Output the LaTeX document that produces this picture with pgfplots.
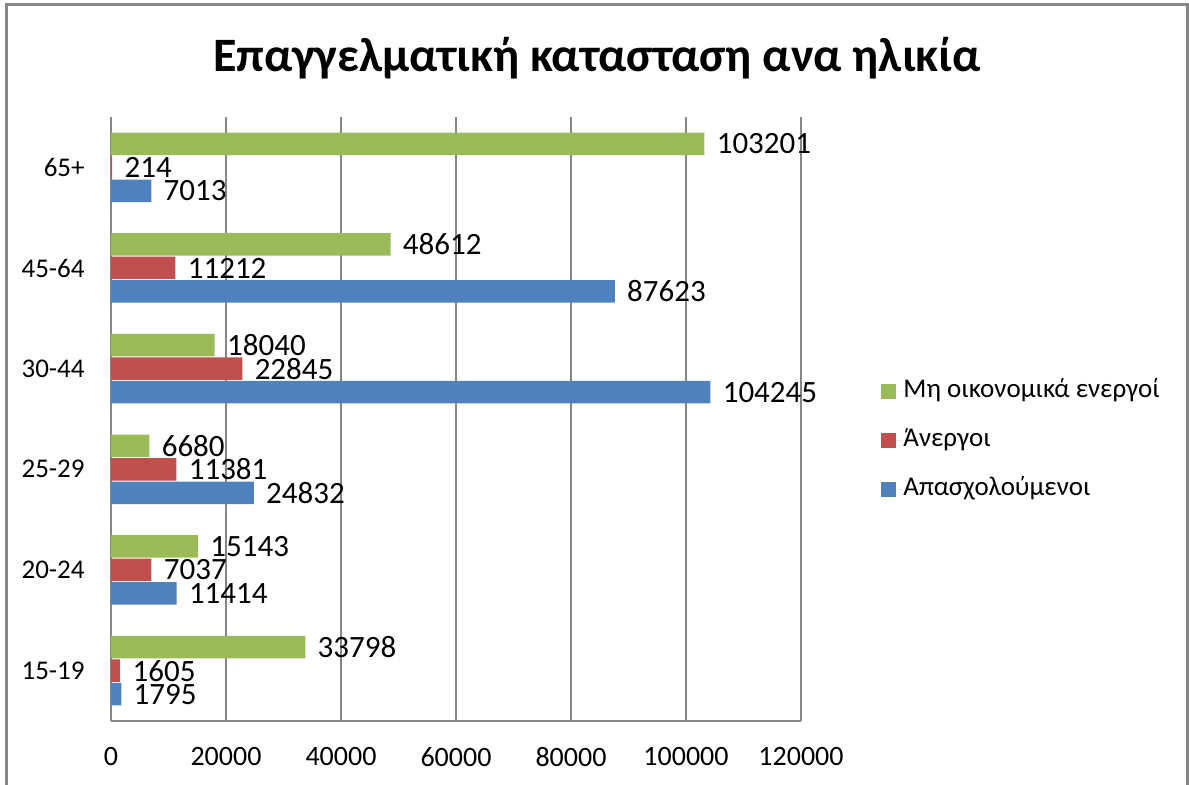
\documentclass[border=0pt]{standalone}
\usepackage{pgfplots}
\pgfplotsset{compat=1.18}
\usepackage{fontspec}
\setmainfont{Carlito}
\definecolor{cblue}{RGB}{79,129,189}
\definecolor{cred}{RGB}{192,80,77}
\definecolor{cgreen}{RGB}{155,187,89}
\definecolor{gridgray}{RGB}{134,134,134}
\begin{document}
\begin{tikzpicture}
\useasboundingbox (0,0) rectangle (594.5pt,392.5pt);
\begin{scope}
\clip (0,0) rectangle (594.5pt,392.5pt);
\draw[gridgray, line width=1.5pt] (3pt,-5pt) rectangle (593.5pt,390pt);
\end{scope}
\node[anchor=base, font=\fontsize{24}{28}\selectfont\bfseries] at (298.5pt,356.5pt) {Επαγγελματική κατασταση ανα ηλικία};
\begin{axis}[
  at={(55.5pt,32pt)}, anchor=south west,
  scale only axis, width=345pt, height=302pt,
  xbar=0.5pt, bar width=11.25pt,
  xmin=0, xmax=120000, ymin=-0.5, ymax=5.5,
  xtick={0,20000,40000,60000,80000,100000,120000},
  xticklabels={0,20000,40000,60000,80000,100000,120000},
  ytick={0,1,2,3,4,5},
  yticklabels={15-19,20-24,25-29,30-44,45-64,65+},
  scaled x ticks=false,
  major tick length=0pt,
  axis x line*=bottom, axis y line*=left,
  axis line style={gridgray, line width=0.75pt, -},
  xmajorgrids, grid style={gridgray, line width=0.6pt},
  tick label style={font=\fontsize{14}{16}\selectfont, black},
  yticklabel style={inner sep=0pt, xshift=-13pt, font=\fontsize{13.5}{16}\selectfont},
  xticklabel style={inner sep=0pt, yshift=-13pt},
  point meta=explicit symbolic,
  nodes near coords={\pgfplotspointmeta},
  every node near coord/.append style={font=\fontsize{15.5}{18}\selectfont, black, anchor=west, inner sep=2pt, xshift=4pt},
  reverse legend,
  legend cell align=left,
  legend style={at={(1.116,0.465)}, anchor=west, draw=none, fill=none, inner sep=0pt,
    font=\fontsize{13.5}{16}\selectfont,
    nodes={inner sep=0pt, text height=9.5pt, text depth=3pt},
    row sep=12pt},
  legend image code/.code={\fill[#1] (0pt,-3.75pt) rectangle (7.5pt,3.75pt); \path (0pt,0pt) -- (11pt,0pt);},
]
\addplot[fill=cblue, draw=none] coordinates {(1795,0) [1795] (11414,1) [11414] (24832,2) [24832] (104245,3) [104245] (87623,4) [87623] (7013,5) [7013]};
\addplot[fill=cred, draw=none] coordinates {(1605,0) [1605] (7037,1) [7037] (11381,2) [11381] (22845,3) [22845] (11212,4) [11212] (214,5) [214]};
\addplot[fill=cgreen, draw=none] coordinates {(33798,0) [33798] (15143,1) [15143] (6680,2) [6680] (18040,3) [18040] (48612,4) [48612] (103201,5) [103201]};
\legend{Απασχολούμενοι,Άνεργοι,Μη οικονομικά ενεργοί}
\end{axis}
\end{tikzpicture}
\end{document}
